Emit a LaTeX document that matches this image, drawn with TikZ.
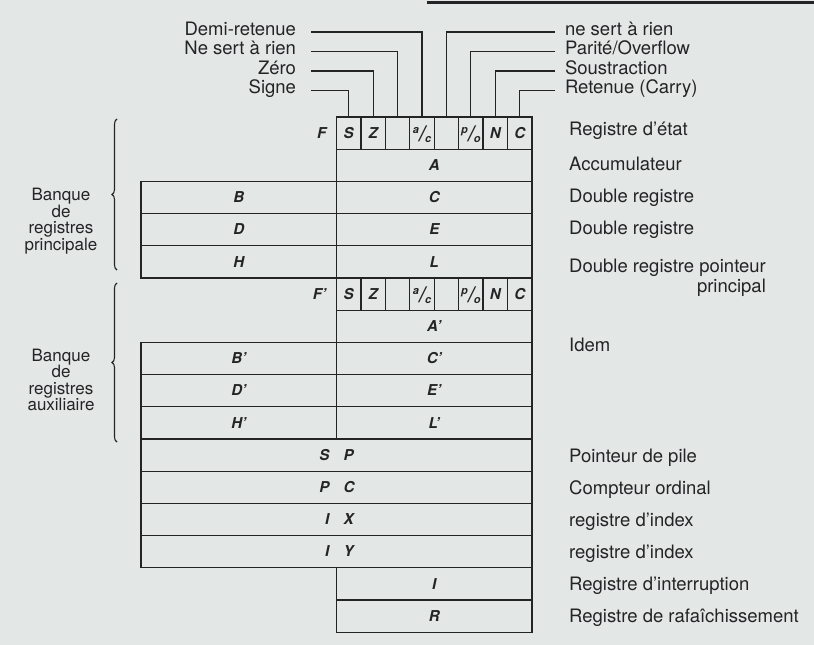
\documentclass[tikz,border=0pt]{standalone}
\usepackage{fontspec}
\setmainfont{TeX Gyre Heros}
\usetikzlibrary{decorations.pathreplacing}

\definecolor{paper}{RGB}{227,231,230}
\definecolor{ink}{RGB}{36,36,38}

\def\colL{141}      % bord gauche des registres
\def\colM{336.5}    % milieu
\def\colR{532}      % bord droit
\def\rowtop{117}    % haut du registre d'etat
\def\rowh{32.2}     % hauteur d'une ligne
\def\cellw{24.4375} % largeur d'un indicateur

\newcommand{\regfont}{\fontsize{15}{15}\selectfont\bfseries\itshape}
\newcommand{\txtfont}{\fontsize{18.5}{18.5}\selectfont}
\newcommand{\flagfrac}[2]{\raisebox{5pt}{\fontsize{11}{11}\selectfont #1}%
  \raisebox{-3.5pt}{\fontsize{22}{22}\selectfont /}%
  \raisebox{-4.5pt}{\fontsize{11}{11}\selectfont #2}}

\tikzset{
  regname/.style={font=\regfont,text=ink,inner sep=0pt,text height=10.5pt,text depth=0pt},
  regbox/.style={regname,draw=ink,line width=1.3pt,minimum height=32.2pt},
  halfbox/.style={regbox,minimum width=195.5pt},
  fullbox/.style={regbox,minimum width=391pt},
  flagbox/.style={regbox,minimum width=24.4375pt},
  desc/.style={font=\txtfont,text=ink,inner sep=0pt,text height=13pt,text depth=4pt},
  flagdesc/.style={desc,text height=12pt,text depth=6pt},
  desctwo/.style={font=\fontsize{18.5}{20}\selectfont,text=ink,inner sep=0pt,align=right},
  bank/.style={font=\fontsize{17}{16.6}\selectfont,text=ink,inner sep=0pt,align=center},
  leader/.style={draw=ink,line width=1.1pt},
  bankbrace/.style={draw=ink,line width=1.1pt,decorate,decoration={brace,amplitude=5pt}}
}

\begin{document}
\begin{tikzpicture}[x=1pt,y=-1pt]
  \fill[paper] (0,0) rectangle (814,645);
  \useasboundingbox (0,0) rectangle (814,645);
  \draw[ink,line width=3pt] (427,2.5) -- (814,2.5);   % filet en haut de page

  % registres d'etat F et F'
  \foreach \r/\p in {0/{},5/'} {
    \pgfmathsetmacro\yc{\rowtop+(\r+0.5)*\rowh}
    \node[regname,anchor=east] (F\r) at ({\colM-10},\yc) {F\p};
    \foreach \k/\flag in {0/S,1/Z,2/{},3/{\flagfrac{a}{c}},4/{},5/{\flagfrac{p}{o}},6/N,7/C}
      \node[flagbox] (f\r-\k) at ({\colM+(\k+0.5)*\cellw},\yc) {\flag};
  }

  % moities droites
  \foreach \r/\name/\id in {1/A/A,2/C/C,3/E/E,4/L/L,6/A'/Ap,7/C'/Cp,8/E'/Ep,9/L'/Lp,14/I/I,15/R/R}
    \node[halfbox] (\id) at ({\colM+97.75},{\rowtop+(\r+0.5)*\rowh}) {\name};

  % moities gauches
  \foreach \r/\name/\id in {2/B/B,3/D/D,4/H/H,7/B'/Bp,8/D'/Dp,9/H'/Hp}
    \node[halfbox] (\id) at ({\colL+97.75},{\rowtop+(\r+0.5)*\rowh}) {\name};

  % registres 16 bits
  \foreach \r/\hi/\lo in {10/S/P,11/P/C,12/I/X,13/I/Y} {
    \node[fullbox] (\hi\lo) at (\colM,{\rowtop+(\r+0.5)*\rowh}) {};
    \node[regname,anchor=east] (\hi\lo-h) at ([xshift=-7pt]\hi\lo.center) {\hi};
    \node[regname,anchor=west] (\hi\lo-l) at ([xshift=7pt]\hi\lo.center) {\lo};
  }

  % descriptions a droite
  \foreach \y/\txt [count=\n] in {131/Registre d'état,166/Accumulateur,198/Double registre,
      230/Double registre,347/Idem,458/Pointeur de pile,490/Compteur ordinal,
      522/registre d'index,554/registre d'index,586/Registre d'interruption,
      618/Registre de rafaîchissement}
    \node[desc,anchor=west] (desc\n) at (569,\y) {\txt};
  \node[desctwo,anchor=north west] (descHL) at (569,259) {Double registre pointeur\\principal};

  % filets des indicateurs
  \foreach \y/\k/\txt in {32/3/Demi-retenue,51.5/2/Ne sert à rien,71/1/Zéro,90.5/0/Signe} {
    \node[flagdesc,anchor=east,outer xsep=15pt] (lg\k) at (311,\y) {\txt};
    \draw[leader] (lg\k.east) -| (f0-\k.north);
  }
  \foreach \y/\k/\txt in {32/4/ne sert à rien,51.5/5/{Parité/Overflow},71/6/Soustraction,
      90.5/7/Retenue (Carry)} {
    \node[flagdesc,anchor=west,outer xsep=10pt] (ld\k) at (555,\y) {\txt};
    \draw[leader] (ld\k.west) -| (f0-\k.north);
  }

  % banques
  \draw[bankbrace] (117,270) -- (117,119);
  \draw[bankbrace] (117,442) -- (117,283);
  \node[bank] (bankP) at (61,221) {Banque\\de\\registres\\principale};
  \node[bank] (bankA) at (61,380) {Banque\\de\\registres\\auxiliaire};
\end{tikzpicture}
\end{document}
